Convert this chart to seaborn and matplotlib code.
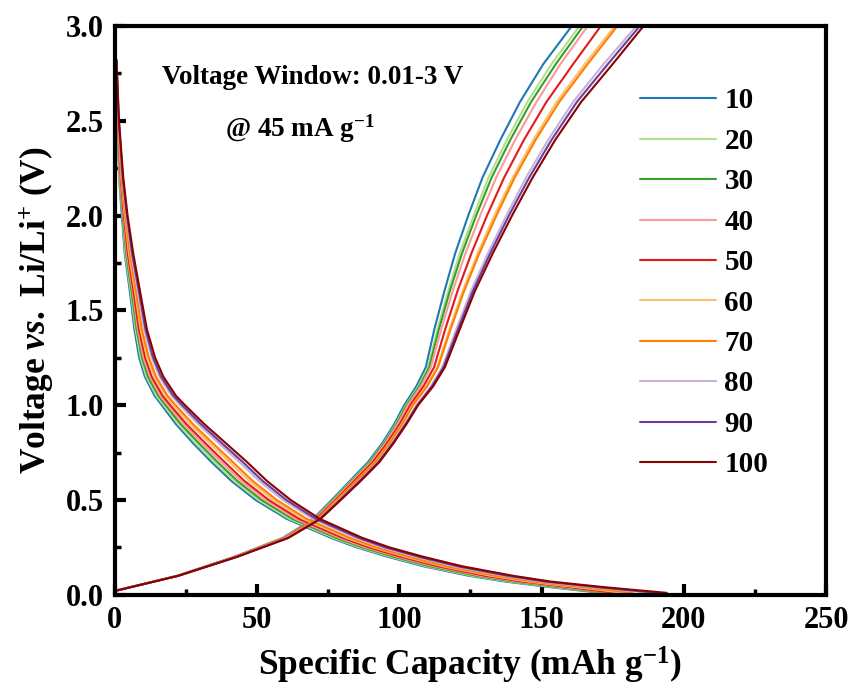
import numpy as np
import pandas as pd
import matplotlib
matplotlib.use('Agg')
import matplotlib.pyplot as plt
import seaborn as sns

# cycle numbers shown in the legend
cycles = ['10', '20', '30', '40', '50', '60', '70', '80', '90', '100']

# charge branch: voltage grid (V) and capacity (mAh/g) for every cycle
v_charge = [0.02, 0.1, 0.2, 0.3, 0.4, 0.5, 0.6, 0.7, 0.8, 0.9, 1.0, 1.1, 1.2,
            1.4, 1.6, 1.8, 2.0, 2.2, 2.4, 2.6, 2.8, 3.0]
cap_charge = {
    '10':  [0, 22.0, 42.0, 59.0, 69.7, 76.2, 82.6, 89.0, 94.0, 98.2, 101.7, 106.0, 109.3, 112.3, 115.8, 119.6, 124.2, 129.2, 135.5, 142.4, 150.6, 160.6],
    '20':  [0, 22.0, 42.1, 59.2, 70.0, 76.6, 83.1, 89.5, 94.5, 98.7, 102.3, 106.7, 110.1, 113.4, 117.1, 121.2, 126.1, 131.3, 137.8, 145.0, 153.5, 163.3],
    '30':  [0, 22.1, 42.2, 59.4, 70.2, 76.8, 83.3, 89.7, 94.7, 99.0, 102.6, 107.1, 110.5, 113.9, 117.7, 122.0, 127.0, 132.4, 139.0, 146.3, 155.0, 164.6],
    '40':  [0, 22.1, 42.3, 59.5, 70.4, 77.1, 83.6, 90.1, 95.1, 99.4, 103.0, 107.6, 111.1, 114.7, 118.7, 123.2, 128.4, 134.0, 140.7, 148.2, 156.6, 166.2],
    '50':  [0, 22.1, 42.4, 59.9, 70.8, 77.6, 84.2, 90.7, 95.7, 100.1, 103.8, 108.5, 112.2, 116.1, 120.4, 125.3, 130.8, 136.8, 143.8, 151.7, 161.1, 170.8],
    '60':  [0, 22.2, 42.6, 60.2, 71.3, 78.1, 84.9, 91.4, 96.4, 100.8, 104.6, 109.5, 113.3, 117.6, 122.2, 127.5, 133.4, 139.8, 147.1, 155.3, 165.2, 175.7],
    '70':  [0, 22.2, 42.6, 60.3, 71.4, 78.3, 85.0, 91.6, 96.6, 101.0, 104.8, 109.8, 113.6, 118.0, 122.7, 128.1, 134.1, 140.5, 147.9, 156.2, 166.2, 176.6],
    '80':  [0, 22.3, 42.9, 60.7, 72.0, 79.0, 85.9, 92.5, 97.5, 101.9, 106.0, 111.1, 115.1, 120.0, 125.1, 131.1, 137.6, 144.5, 152.3, 161.1, 171.8, 183.3],
    '90':  [0, 22.3, 42.9, 60.9, 72.1, 79.2, 86.1, 92.7, 97.7, 102.2, 106.3, 111.5, 115.5, 120.6, 125.8, 131.9, 138.5, 145.6, 153.5, 162.4, 173.3, 184.5],
    '100': [0, 22.3, 43.0, 61.0, 72.3, 79.4, 86.4, 93.0, 98.0, 102.5, 106.6, 111.9, 116.0, 121.2, 126.5, 132.8, 139.6, 146.8, 154.8, 163.9, 175.0, 185.8],
}

# discharge branch
v_discharge = [2.82, 2.5, 2.2, 2.0, 1.8, 1.6, 1.4, 1.25, 1.15, 1.05, 1.0, 0.9, 0.8,
               0.7, 0.6, 0.5, 0.4, 0.3, 0.25, 0.2, 0.15, 0.1, 0.07, 0.04, 0.01]
cap_discharge = {
    '10':  [0.6, 0.9, 1.5, 2.5, 3.5, 5.3, 6.9, 8.6, 10.6, 14.0, 16.5, 21.5, 27.5, 34.0, 41.0, 49.5, 60.5, 76.0, 85.0, 96.0, 108.5, 124.5, 137.0, 153.0, 171.0],
    '20':  [0.6, 1.0, 1.6, 2.7, 3.7, 5.6, 7.3, 9.1, 11.1, 14.6, 17.2, 22.3, 28.4, 35.0, 42.0, 50.5, 61.4, 76.9, 85.9, 97.0, 109.6, 125.7, 138.3, 154.5, 173.0],
    '30':  [0.6, 1.0, 1.8, 2.8, 4.0, 5.9, 7.7, 9.6, 11.7, 15.3, 17.9, 23.2, 29.5, 36.1, 43.1, 51.6, 62.5, 77.9, 87.0, 98.1, 110.8, 127.1, 139.7, 156.2, 173.5],
    '40':  [0.6, 1.1, 1.9, 3.0, 4.3, 6.3, 8.1, 10.1, 12.4, 16.0, 18.7, 24.2, 30.6, 37.4, 44.4, 52.8, 63.6, 79.0, 88.1, 99.4, 112.2, 128.7, 141.3, 158.1, 174.5],
    '50':  [0.6, 1.1, 2.1, 3.2, 4.6, 6.6, 8.5, 10.7, 13.0, 16.8, 19.5, 25.2, 31.8, 38.6, 45.6, 54.1, 64.8, 80.1, 89.3, 100.6, 113.6, 130.2, 142.9, 160.0, 175.5],
    '60':  [0.6, 1.2, 2.3, 3.5, 5.0, 7.1, 9.1, 11.4, 13.9, 17.8, 20.6, 26.5, 33.3, 40.3, 47.3, 55.7, 66.3, 81.5, 90.8, 102.3, 115.4, 132.3, 145.0, 162.5, 179.0],
    '70':  [0.6, 1.3, 2.4, 3.7, 5.3, 7.5, 9.5, 12.0, 14.5, 18.5, 21.4, 27.5, 34.4, 41.5, 48.5, 56.9, 67.5, 82.6, 91.9, 103.5, 116.7, 133.8, 146.6, 164.4, 182.0],
    '80':  [0.6, 1.4, 2.7, 4.1, 5.8, 8.1, 10.3, 13.0, 15.7, 19.9, 22.9, 29.3, 36.5, 43.8, 50.8, 59.1, 69.6, 84.6, 94.0, 105.8, 119.2, 136.6, 149.5, 167.8, 188.0],
    '90':  [0.6, 1.4, 2.8, 4.3, 6.1, 8.5, 10.8, 13.5, 16.3, 20.6, 23.7, 30.3, 37.6, 45.0, 52.0, 60.3, 70.7, 85.7, 95.1, 107.0, 120.6, 138.1, 151.1, 169.7, 190.5],
    '100': [0.6, 1.5, 3.0, 4.5, 6.5, 8.9, 11.3, 14.2, 17.1, 21.5, 24.7, 31.5, 39.0, 46.5, 53.5, 61.8, 72.1, 87.0, 96.5, 108.5, 122.2, 140.0, 153.0, 172.0, 194.0],
}

rows = []
for c in cycles:
    for q, v in zip(cap_discharge[c], v_discharge):
        rows.append((c, 'dis', q, v))
    for q, v in zip(cap_charge[c], v_charge):
        rows.append((c, 'chg', q, v))
df = pd.DataFrame(rows, columns=['cycle', 'branch', 'cap', 'volt'])
df['unit'] = df['cycle'] + df['branch']

pal = sns.color_palette('Paired')[1:10] + ['#8b0000']

sns.set_style('white')
plt.rcParams['font.family'] = ['Liberation Serif', 'DejaVu Serif']
plt.rcParams['font.weight'] = 'bold'
plt.rcParams['text.color'] = 'black'
plt.rcParams['axes.labelcolor'] = 'black'
plt.rcParams['xtick.color'] = 'black'
plt.rcParams['ytick.color'] = 'black'
plt.rcParams['mathtext.fontset'] = 'custom'
plt.rcParams['mathtext.rm'] = 'Liberation Serif:bold'
plt.rcParams['mathtext.it'] = 'Liberation Serif:italic:bold'
plt.rcParams['mathtext.bf'] = 'Liberation Serif:bold'

fig = plt.figure(figsize=(8.5, 6.86), dpi=100)
ax = fig.add_axes([0.135, 0.133, 0.837, 0.829])

sns.lineplot(data=df, x='cap', y='volt', hue='cycle', hue_order=cycles, units='unit',
             estimator=None, sort=False, palette=pal, linewidth=1.5, ax=ax)

ax.set_xlim(0, 250)
ax.set_ylim(0, 3.0)
ax.set_xticks(np.arange(0, 251, 50))
ax.set_yticks(np.arange(0, 3.01, 0.5))
ax.set_xticks(np.arange(0, 251, 25), minor=True)
ax.set_yticks(np.arange(0, 3.01, 0.25), minor=True)
ax.set_yticklabels(['%.1f' % t for t in np.arange(0, 3.01, 0.5)])
ax.tick_params(which='both', bottom=True, left=True, top=False, right=False, direction='in')
ax.tick_params(which='major', length=8, width=3, labelsize=22, pad=8)
ax.tick_params(which='minor', length=4, width=2.5)
for sp in ax.spines.values():
    sp.set_linewidth(3)
    sp.set_color('black')
for lab in ax.get_xticklabels() + ax.get_yticklabels():
    lab.set_fontweight('bold')

ax.set_xlabel('Specific Capacity (mAh g$^{-1}$)', fontsize=25.5, fontweight='bold', labelpad=7)
ax.set_ylabel(r'Voltage $\it{vs.}$ Li/Li$^{+}$ (V)', fontsize=25.5, fontweight='bold', labelpad=6)

ax.text(0.278, 0.91, 'Voltage Window: 0.01-3 V', transform=ax.transAxes, fontsize=19.5,
        fontweight='bold', ha='center', va='center')
ax.text(0.155, 0.82, '@ 45 mA g$^{-1}$', transform=ax.transAxes, fontsize=19.5,
        fontweight='bold', ha='left', va='center')

handles, labels = ax.get_legend_handles_labels()
ax.legend(handles, labels, loc='upper left', bbox_to_anchor=(0.738, 0.892), frameon=False,
          handlelength=2.6, handletextpad=0.3, labelspacing=0.46,
          borderpad=0, borderaxespad=0, prop={'weight': 'bold', 'size': 21})

fig.savefig('out.png', dpi=100)
